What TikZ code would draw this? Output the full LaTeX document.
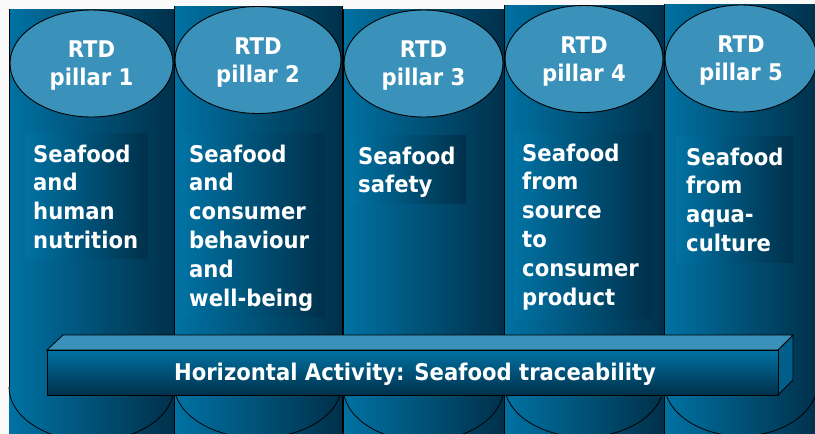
\documentclass[tikz,border=0pt]{standalone}
\usepackage{fontspec}
\setmainfont{DejaVu Sans}[FakeStretch=0.92]
\definecolor{cylL}{HTML}{0072A3}
\definecolor{cylR}{HTML}{00304A}
\definecolor{capc}{HTML}{3A91B9}
\definecolor{bgc}{HTML}{FAFAFA}
\definecolor{barside}{HTML}{005E8A}
\newcommand{\stk}[1]{\vtop{\baselineskip=28.8pt\lineskiplimit=-100pt\halign{##\hfil\cr#1\crcr}}}
\newcommand{\stc}[1]{\vtop{\baselineskip=28pt\lineskiplimit=-100pt\halign{\hfil##\hfil\cr#1\crcr}}}
\tikzset{
  cylbody/.style={left color=cylL, right color=cylR, draw=none},
  cyledge/.style={draw=black, line width=0.8pt},
  captop/.style={fill=capc, draw=black, line width=0.9pt},
  txtbox/.style={left color=cylL, right color=cylR, draw=none},
  label/.style={text=white, font=\fontsize{23}{28.8}\selectfont\bfseries, inner sep=0pt},
}
\begin{document}
\begin{tikzpicture}[x=1pt,y=-1pt]
\useasboundingbox (0,0) rectangle (815,434);
\fill[bgc] (0,0) rectangle (815,434);
\clip (0,0) rectangle (815,434);
% cylinder bodies
\fill[cylbody] (9,9) rectangle (174,440);
\fill[cylbody] (174,6) rectangle (342,440);
\fill[cylbody] (343,9) rectangle (504,440);
\fill[cylbody] (504,5) rectangle (664,440);
\fill[cylbody] (664,4) rectangle (818,440);
% text boxes
\fill[txtbox] (25,133) rectangle (148,258);
\fill[txtbox] (181,133) rectangle (325,316);
\fill[txtbox] (350,135) rectangle (466,203);
\fill[txtbox] (514,133) rectangle (652,318);
\fill[txtbox] (676,136) rectangle (793,262);
% side edges
\draw[cyledge] (9,9) -- (9,387) (174,6) -- (174,440) (342,6) -- (342,440)
  (343,9) -- (343,440) (504,5) -- (504,440) (664,4) -- (664,440);
% bottom arcs
\draw[cyledge] (9,387) arc[start angle=180, end angle=0, x radius=82.5, y radius=54];
\draw[cyledge] (174,384) arc[start angle=180, end angle=0, x radius=84, y radius=54];
\draw[cyledge] (343,387) arc[start angle=180, end angle=0, x radius=80.5, y radius=54];
\draw[cyledge] (504,383) arc[start angle=180, end angle=0, x radius=80, y radius=54];
\draw[cyledge] (664,382) arc[start angle=180, end angle=0, x radius=77, y radius=54];
% top caps
\draw[captop] (91.5,63.5) ellipse [x radius=81.5, y radius=53.5];
\draw[captop] (258,60) ellipse [x radius=83, y radius=53.5];
\draw[captop] (423.5,63.5) ellipse [x radius=79.5, y radius=53.5];
\draw[captop] (584,59) ellipse [x radius=79, y radius=53.5];
\draw[captop] (741,58.5) ellipse [x radius=76, y radius=53.5];
% cap labels
\node[label, anchor=base] (p1) at (91.5,57) {\stc{RTD\cr pillar 1}};
\node[label, anchor=base] (p2) at (258,54) {\stc{RTD\cr pillar 2}};
\node[label, anchor=base] (p3) at (423.5,57) {\stc{RTD\cr pillar 3}};
\node[label, anchor=base] (p4) at (584,53) {\stc{RTD\cr pillar 4}};
\node[label, anchor=base] (p5) at (741,52) {\stc{RTD\cr pillar 5}};
% body labels
\node[label, anchor=base west] (t1) at (33,162) {\stk{Seafood\cr and\cr human\cr nutrition}};
\node[label, anchor=base west] (t2) at (189,162) {\stk{Seafood\cr and\cr consumer\cr behaviour\cr and\cr well-being}};
\node[label, anchor=base west] (t3) at (358,164) {\stk{Seafood\cr safety}};
\node[label, anchor=base west] (t4) at (522,161) {\stk{Seafood\cr from\cr source\cr to\cr consumer\cr product}};
\node[label, anchor=base west] (t5) at (686,165) {\stk{Seafood\cr from\cr aqua-\cr culture}};
% horizontal bar
\fill[barside, draw=black, line width=0.8pt] (778,350) -- (793,335) -- (793,380) -- (778,395) -- cycle;
\fill[capc, draw=black, line width=0.8pt] (47,350) -- (63,335) -- (793,335) -- (778,350) -- cycle;
\fill[top color=cylL, bottom color=cylR, draw=black, line width=0.8pt] (47,350) rectangle (778,395);
\node[label, anchor=base] (bar) at (415,380) {Horizontal Activity: Seafood traceability};
\end{tikzpicture}
\end{document}
